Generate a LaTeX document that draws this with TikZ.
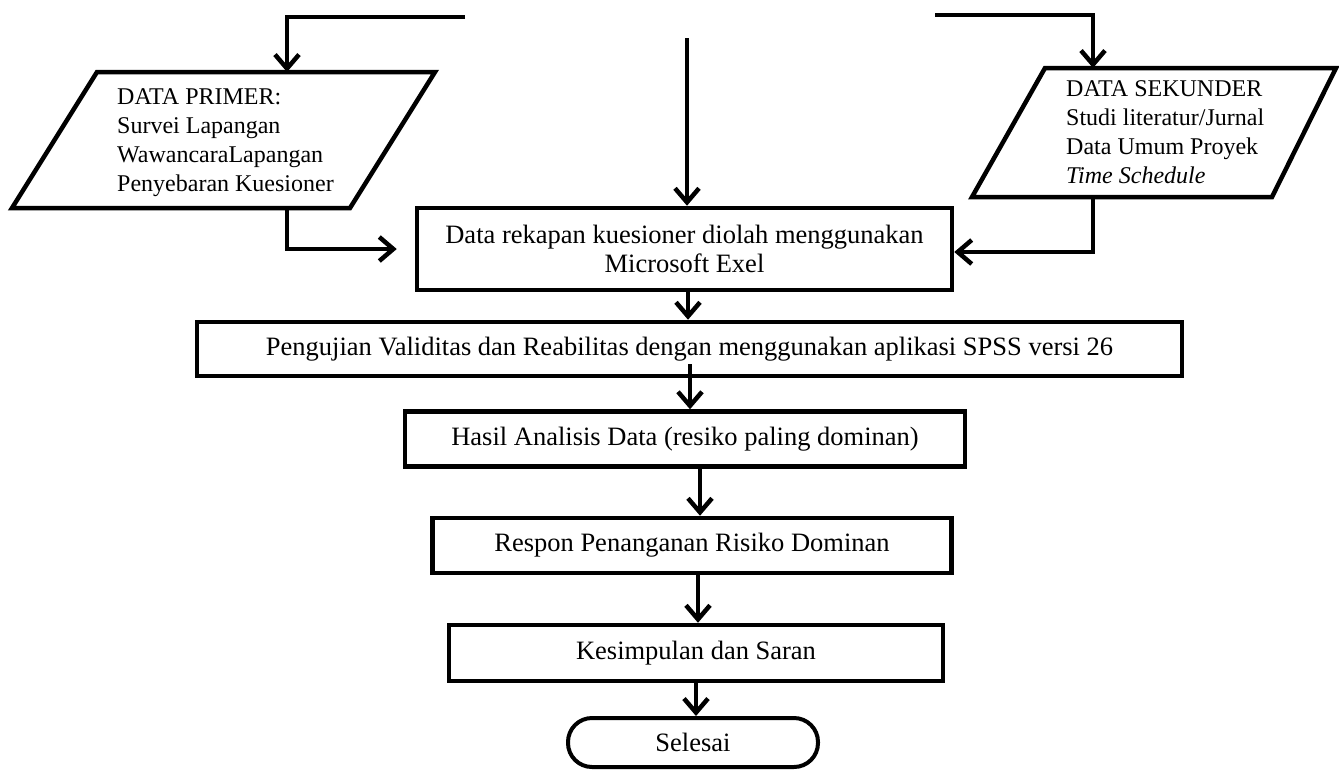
\documentclass[tikz,border=0pt]{standalone}
\usepackage{fontspec}
\setmainfont{Liberation Serif}
\usetikzlibrary{arrows.meta,calc}
\tikzset{
  box/.style={draw,rectangle,inner sep=0pt,line width=4.5pt,align=center,font=\fontsize{26.5}{29}\selectfont},
  term/.style={draw,rectangle,rounded corners=24pt,inner sep=0pt,line width=4pt,font=\fontsize{26.5}{29}\selectfont},
  arr/.style={line width=4.5pt,-{Straight Barb[length=14pt,width=24pt]}},
  io/.style={line width=4.5pt,line join=miter},
  iotext/.style={align=left,anchor=west,inner sep=0pt,font=\fontsize{24}{29}\selectfont}
}
\begin{document}
\begin{tikzpicture}[x=1pt,y=-1pt]
\useasboundingbox (0,0) rectangle (1339,769);
% parallelograms
\draw[io] (97,72) -- (435,72) -- (350,208) -- (12,208) -- cycle;
\node[iotext] (prim) at (117,143) {DATA PRIMER:\\Survei Lapangan\\WawancaraLapangan\\Penyebaran Kuesioner};
\draw[io] (1045,68) -- (1336,68) -- (1272,197) -- (972,197) -- cycle;
\node[iotext] (sek) at (1066,132) {DATA SEKUNDER\\Studi literatur/Jurnal\\Data Umum Proyek\\\textit{Time Schedule}};
\coordinate (ptop) at (287,72);
\coordinate (pbot) at (287,208);
\coordinate (stop) at (1093,68);
\coordinate (sbot) at (1093,197);
\coordinate (ltop) at (465,17);
\coordinate (rtop) at (935,15);
\coordinate (ctop) at (687,38);
% boxes
\node[box,minimum width=535pt,minimum height=82pt] (b1) at (684.5,249) {Data rekapan kuesioner diolah menggunakan\\Microsoft Exel};
\node[box,minimum width=985pt,minimum height=54pt] (b2) at (689.5,349) {Pengujian Validitas dan Reabilitas dengan menggunakan aplikasi SPSS versi 26};
\node[box,minimum width=560pt,minimum height=55pt] (b3) at (685,439) {Hasil Analisis Data (resiko paling dominan)};
\node[box,minimum width=519pt,minimum height=55pt] (b4) at (692,545.5) {Respon Penanganan Risiko Dominan};
\node[box,minimum width=494pt,minimum height=56pt] (b5) at (696,653) {Kesimpulan dan Saran};
\node[term,minimum width=250pt,minimum height=49pt] (end) at (693,742.5) {Selesai};
% column coordinates
\coordinate (x687) at (687,0);
\coordinate (x688) at (688,0);
\coordinate (x690) at (690,0);
\coordinate (x700) at (700,0);
\coordinate (x698) at (698,0);
\coordinate (x696) at (696,0);
% connectors
\draw[arr] (ltop) -| (ptop);
\draw[arr] (rtop) -| (stop);
\draw[arr] (ctop) -- (b1.north -| x687);
\draw[arr,shorten >=18pt] (pbot) |- (b1.west);
\draw[arr] (sbot) |- ($(b1.east)+(0,3)$);
\draw[arr] (b1.south -| x688) -- (b2.north -| x688);
\draw[arr] ($(b2.south -| x690)+(0,-14)$) -- (b3.north -| x690);
\draw[arr] (b3.south -| x700) -- (b4.north -| x700);
\draw[arr] (b4.south -| x698) -- (b5.north -| x698);
\draw[arr] (b5.south -| x696) -- (end.north -| x696);
\end{tikzpicture}
\end{document}
